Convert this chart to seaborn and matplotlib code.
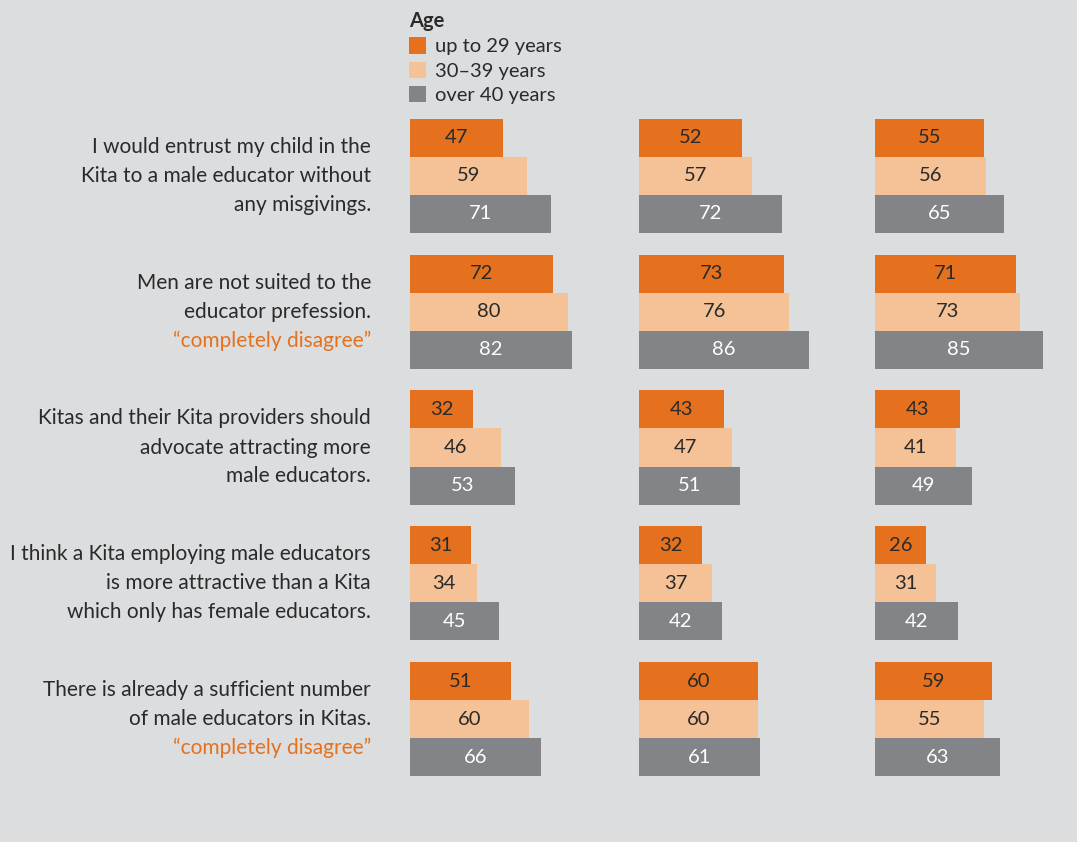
import matplotlib
matplotlib.use("Agg")
import matplotlib.pyplot as plt
from matplotlib.patches import Patch
import seaborn as sns
import pandas as pd

# --- data ---
statements = [
    ["I would entrust my child in the", "Kita to a male educator without", "any misgivings."],
    ["Men are not suited to the", "educator prefession.", "\u201ccompletely disagree\u201d"],
    ["Kitas and their Kita providers should", "advocate attracting more", "male educators."],
    ["I think a Kita employing male educators", "is more attractive than a Kita", "which only has female educators."],
    ["There is already a sufficient number", "of male educators in Kitas.", "\u201ccompletely disagree\u201d"],
]
orange_line = [None, 2, None, None, 2]  # which line is the orange note

ages = ["up to 29 years", "30\u201339 years", "over 40 years"]

panel1 = [[47, 59, 71], [72, 80, 82], [32, 46, 53], [31, 34, 45], [51, 60, 66]]
panel2 = [[52, 57, 72], [73, 76, 86], [43, 47, 51], [32, 37, 42], [60, 60, 61]]
panel3 = [[55, 56, 65], [71, 73, 85], [43, 41, 49], [26, 31, 42], [59, 55, 63]]
panels = [panel1, panel2, panel3]

colors = ["#e5711e", "#f5c196", "#838487"]
text_colors = ["#2a2a2a", "#2a2a2a", "#ffffff"]
bg = "#dcdddf"

sns.set_style("white")
plt.rcParams["font.family"] = ["Lato", "DejaVu Sans"]

fig = plt.figure(figsize=(10.77, 8.42), dpi=100, facecolor=bg)

W, H = 1077, 842
lefts = [410, 639, 875]
px_per_unit = 1.98
top_px, bot_px = 108, 787

axes = []
for p, vals in enumerate(panels):
    rows = []
    for i, grp in enumerate(vals):
        for a, v in zip(ages, grp):
            rows.append({"q": i, "age": a, "value": v})
    df = pd.DataFrame(rows)

    ax = fig.add_axes([lefts[p] / W, 1 - bot_px / H, 100 * px_per_unit / W, (bot_px - top_px) / H])
    ax.set_facecolor("none")
    sns.barplot(data=df, y="q", x="value", hue="age", hue_order=ages,
                palette=colors, orient="h", width=0.84, linewidth=0,
                saturation=1, legend=False, ax=ax)
    ax.set_xlim(0, 100)
    ax.set_ylim(4.5, -0.5)
    for c, tc in zip(ax.containers, text_colors):
        ax.bar_label(c, label_type="center", color=tc, fontsize=14.5)
    ax.set_xticks([])
    ax.set_yticks([])
    ax.set_xlabel("")
    ax.set_ylabel("")
    sns.despine(ax=ax, left=True, bottom=True)
    axes.append(ax)

# statement labels left of first panel
ax0 = axes[0]
tr = ax0.get_yaxis_transform()
line_step = 29 / ((bot_px - top_px) / 5)
x_txt = (371 - 410) / (100 * px_per_unit)
for i, lines in enumerate(statements):
    for k, line in enumerate(lines):
        col = "#e5711e" if orange_line[i] == k else "#2a2a2a"
        ax0.text(x_txt, i + (k - 1) * line_step, line, transform=tr,
                 ha="right", va="center", fontsize=15, color=col)

# legend
handles = [Patch(facecolor=c, edgecolor="none") for c in colors]
leg = fig.legend(handles, ages, loc="upper left",
                 bbox_to_anchor=(409 / W, 1 - 11 / H), frameon=False,
                 title="Age", alignment="left", fontsize=14.5,
                 handlelength=0.85, handleheight=0.85, handletextpad=0.45,
                 labelspacing=0.32, borderpad=0, borderaxespad=0)
leg.get_title().set_fontweight("bold")
leg.get_title().set_fontsize(14.5)
for t in leg.get_texts():
    t.set_color("#2a2a2a")
leg.get_title().set_color("#2a2a2a")

fig.savefig("out.png", dpi=100, facecolor=bg)
